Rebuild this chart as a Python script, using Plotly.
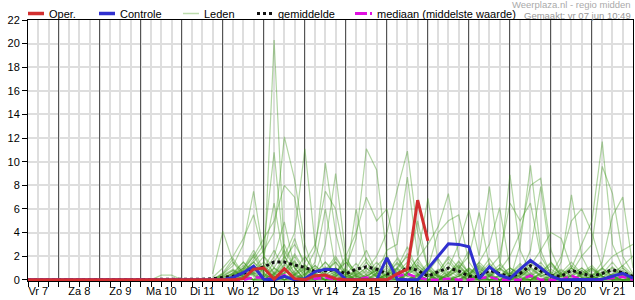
import pandas as pd
import plotly.graph_objects as go

# ---------------- data ----------------
tijd = list(pd.date_range("2024-06-07 06:00", periods=60, freq="6h"))
dag_labels = ["Vr 7", "Za 8", "Zo 9", "Ma 10", "Di 11", "Wo 12", "Do 13", "Vr 14",
              "Za 15", "Zo 16", "Ma 17", "Di 18", "Wo 19", "Do 20", "Vr 21"]
dag_midden = list(pd.date_range("2024-06-07 12:00", periods=15, freq="D"))
dag_grens = list(pd.date_range("2024-06-08 00:00", periods=14, freq="D"))

oper = [0, 0, 0, 0, 0, 0, 0, 0, 0, 0, 0, 0, 0, 0, 0, 0, 0, 0, 0, 0,
        0, 0.1, 0.9, 1.0, 0.05, 0.95, 0.1, 0, 0.35, 0.4, 0.1, 0, 0, 0, 0, 0,
        0.5, 0.9, 6.75, 3.3]

controle = [0, 0, 0, 0, 0, 0, 0, 0, 0, 0, 0.05, 0.05, 0, 0, 0, 0, 0, 0, 0, 0,
            0.2, 0.6, 1.15, 0.05, 0, 0.3, 0, 0.1, 0.7, 0.9, 0.85, 0.05, 0, 0, 0, 1.85,
            0.05, 0, 0, 0.95, 2.0, 3.05, 3.0, 2.8, 0.1, 1.1, 0.4, 0.1, 0.9, 1.65,
            1.0, 0.3, 0, 0, 0, 0, 0.05, 0.3, 0.55, 0.15]

gemiddelde = [0, 0, 0, 0, 0, 0, 0, 0, 0, 0, 0.02, 0.02, 0.02, 0.02, 0.02, 0.02, 0.05, 0.05, 0.1, 0.2,
              0.3, 0.55, 0.85, 1.1, 1.5, 1.5, 1.25, 1.05, 0.7, 0.8, 0.85, 0.5, 0.9, 1.1, 0.9, 0.5,
              0.45, 1.05, 0.8, 0.3, 0.7, 1.0, 0.75, 0.3, 0.28, 0.8, 0.5, 0.25, 0.55, 1.2,
              0.75, 0.35, 0.3, 0.8, 0.55, 0.3, 0.55, 0.85, 0.6, 0.3]

mediaan = [0, 0, 0, 0, 0, 0, 0, 0, 0, 0, 0, 0, 0, 0, 0, 0, 0, 0, 0, 0,
           0, 0, 0.2, 0.2, 0, 0.4, 0, 0, 0.1, 0.2, 0, 0, 0, 0.2, 0, 0,
           0.3, 0.5, 0.2, 0, 0, 0.1, 0, 0, 0.15, 0.25, 0, 0, 0, 0.35,
           0, 0, 0, 0.35, 0, 0, 0, 0.15, 0.25, 0]

# ensemble members (from Di 11 18:00 onward; earlier values are 0)
leden = [
    [0, 0.2, 0.5, 1.0, 2.5, 0.8, 20.3, 2.0, 0.5, 0, 0.2, 0.8, 1.5, 0.3, 0, 0, 0.5, 1.2, 0.4, 0, 0.3,
     0.9, 0.2, 0, 0, 0.4, 1.5, 0.6, 0, 0.2, 0.8, 0.3, 0, 0, 0.5, 1.0, 0.2, 0, 0, 0.3, 0.6, 0.1],
    [0, 0, 0.3, 0.8, 1.5, 2.5, 4.0, 12.1, 8.5, 3.0, 0.3, 0, 0.5, 1.5, 0.8, 0, 0, 0.3, 1.0, 2.0, 0.5,
     0, 0, 0.6, 1.2, 0.3, 0, 0, 0.4, 1.0, 0.5, 0, 0, 0.2, 0.6, 0.2, 0, 0, 0.4, 1.1, 0.3, 0],
    [0, 0, 0, 0.5, 1.8, 3.0, 10.8, 2.0, 4.0, 11.1, 3.0, 0.5, 0, 0, 0.4, 1.0, 0.2, 0, 0, 0.5, 1.5,
     0.6, 0, 0, 0.3, 0.8, 0.2, 0, 0, 0.5, 1.4, 0.4, 0, 0, 0, 0.3, 0.8, 0.2, 0, 0, 0.5, 0.2],
    [0, 0.5, 1.2, 3.0, 7.5, 2.0, 0.5, 1.0, 0, 0.8, 2.5, 9.9, 4.0, 0.5, 0, 0, 1.2, 2.0, 0.5, 0, 0,
     0, 0.7, 1.8, 0.6, 0, 0, 0.4, 1.0, 0.3, 0, 0, 0.5, 1.2, 0.4, 0, 0, 0.2, 0.7, 0.3, 0, 0],
    [0.5, 4.1, 1.5, 0.3, 0, 0, 1.0, 2.5, 1.0, 0, 0.5, 3.0, 9.0, 2.0, 0.3, 0, 0, 0.5, 1.5, 0.6, 0,
     0, 0, 0.3, 0.9, 2.5, 0.8, 0, 0, 0.3, 0.6, 0.2, 0, 0, 0.4, 1.2, 0.5, 0, 0, 0.2, 0.6, 0.3],
    [0, 0, 0.2, 0.6, 1.5, 0.8, 0.3, 0, 0.5, 1.2, 0.4, 0, 0.3, 1.0, 3.5, 11.1, 9.3, 2.0, 0.5, 0, 0.3,
     0.8, 0.2, 0, 0, 0.3, 0.9, 0.4, 0, 0, 0.5, 1.5, 0.6, 0, 0, 0.4, 1.0, 0.3, 0, 0, 0.2, 0.1],
    [0, 0, 0, 0.3, 0.8, 1.5, 0.6, 0, 0.2, 0.5, 1.2, 0.4, 0, 0, 0.3, 0.8, 2.0, 4.0, 7.6, 10.9, 4.0,
     1.0, 0.3, 0, 0, 0.5, 1.0, 0.3, 0, 0, 0.4, 1.1, 0.3, 0.6, 0, 0, 0.2, 0.5, 0.2, 0, 0, 0],
    [0, 0, 0.4, 1.0, 2.2, 0.6, 0, 0.5, 1.5, 0.3, 0, 0.2, 0.7, 1.5, 0.4, 0, 0.6, 2.5, 3.0, 8.7, 2.0,
     6.9, 1.5, 0.2, 0, 0.4, 1.3, 0.5, 0, 0.2, 0, 0, 0.6, 1.4, 0.4, 0, 0, 0.3, 0.9, 0.3, 0, 0],
    [0, 0, 0, 0.2, 0.9, 2.0, 1.0, 0.3, 0, 0, 0.6, 1.5, 0.5, 0, 0, 0.4, 1.1, 0.3, 0, 0.6, 1.8,
     3.0, 4.5, 7.3, 2.0, 0.5, 0, 0.3, 1.0, 8.9, 2.5, 0.6, 0, 0, 0.3, 0.8, 0.2, 0, 0.5, 1.5, 0.4, 0],
    [0, 0.3, 0.8, 0.2, 0, 0.5, 2.0, 4.9, 1.0, 0, 0.3, 0, 0.5, 1.8, 0.5, 0, 0, 0.2, 0.8, 2.2, 1.0,
     0.3, 0, 1.0, 3.0, 5.9, 2.0, 7.9, 1.5, 0.3, 0, 0.4, 1.2, 0.3, 0, 0, 0.5, 1.0, 0.3, 0, 0, 0.2],
    [0, 0, 0.5, 1.5, 0.6, 0, 0.3, 1.2, 3.5, 1.0, 0.2, 0, 0, 0.5, 1.4, 0.4, 0, 0, 0.3, 1.0, 0.4,
     0, 0.6, 2.0, 1.0, 2.0, 5.7, 1.2, 0.3, 0, 3.0, 9.7, 2.5, 0.4, 0, 0, 0.6, 1.2, 0.3, 0, 0, 0.3],
    [0, 0, 0, 0.8, 2.0, 0.5, 0, 0.2, 0.7, 2.0, 0.6, 0, 0.4, 0, 0.9, 2.5, 0.6, 0, 0.4, 1.2, 0.5,
     0, 0, 0.5, 1.5, 0.6, 0, 0.2, 0.8, 2.0, 4.0, 8.0, 8.6, 2.5, 0.5, 0, 0, 0.4, 1.0, 0.3, 0, 0],
    [0, 0.2, 0.6, 0.3, 0, 1.0, 2.5, 0.8, 0, 0.3, 1.5, 6.0, 1.0, 0, 0.2, 0.7, 0.3, 0, 1.0, 2.8, 0.8,
     0.3, 0, 0.3, 1.0, 0.4, 1.5, 3.0, 6.1, 1.0, 0.5, 2.5, 7.9, 1.5, 0.3, 0, 0, 0.2, 0.5, 0.2, 0, 0],
    [0, 0, 0.3, 1.0, 0.4, 0, 0.5, 1.6, 0.4, 0, 0, 0.5, 1.8, 0.6, 0, 0, 0.4, 1.0, 0.3, 0, 0.2,
     0.7, 1.8, 0.5, 0, 0, 0.4, 1.0, 0.3, 0, 0.2, 1.0, 0.4, 0, 1.5, 7.2, 2.0, 0.3, 0, 0.4, 1.0, 0.2],
    [0, 0, 0, 0.2, 0.6, 1.2, 0.5, 0, 0, 0.4, 1.0, 0.3, 0, 0, 0.5, 1.5, 0.4, 0, 0, 0.6, 1.3,
     0.4, 0, 0, 0.3, 1.0, 0.3, 0, 0, 0.5, 1.2, 0.4, 0, 0, 0.3, 1.0, 3.0, 5.0, 11.7, 3.0, 1.0, 0.3],
    [0, 0.4, 0.9, 0.3, 0, 0.2, 1.5, 3.0, 1.0, 0, 0, 0.8, 2.0, 0.5, 0, 0.3, 0.9, 0.3, 0, 0, 0.4,
     1.2, 0.4, 0, 0.5, 0, 0.6, 1.8, 0.5, 0, 0, 0.5, 1.5, 0.4, 0, 0.6, 2.0, 3.0, 9.6, 7.3, 2.0, 0.5],
    [0, 0, 0.2, 0.5, 1.2, 0.4, 0, 0.6, 2.0, 0.6, 0, 0, 0.3, 0.9, 0.3, 0, 0, 0.5, 1.4, 0.5, 0,
     0, 0.3, 1.1, 0.4, 0, 0, 0.3, 0.9, 0.3, 0, 0, 0.6, 1.5, 0.5, 0, 0, 0.3, 1.5, 5.4, 7.0, 1.0],
    [0, 0, 0.6, 1.5, 0.5, 0, 0.2, 0.6, 2.2, 0.8, 0, 0.4, 1.0, 0.2, 6.0, 1.5, 0.3, 0, 0.4, 1.0, 5.0,
     1.0, 0.3, 0, 0, 0.6, 1.2, 0.4, 0, 0.3, 0.8, 0.2, 0, 0, 0.3, 1.0, 0.3, 0, 0, 0.4, 0.8, 0.2],
    [0.2, 1.0, 2.0, 3.5, 5.5, 2.0, 6.5, 1.5, 0.3, 0, 0.5, 1.5, 0.6, 0, 0, 0.3, 0.8, 0.2, 0, 0.4, 1.2,
     0.5, 0, 0, 0.3, 1.0, 0.4, 0, 0, 0.4, 1.0, 0.3, 0, 0, 0.6, 1.5, 0.5, 0, 0.2, 0.8, 0.3, 0],
    [0, 0, 0.3, 0.9, 2.0, 3.5, 5.0, 8.0, 7.0, 2.0, 0.5, 0, 0.3, 0.8, 0.2, 0, 0, 0.5, 1.0, 0.3, 0,
     0, 0.2, 0.7, 0.3, 0, 0.5, 1.4, 0.5, 0, 0, 0.3, 0.8, 0.2, 0, 0, 0.4, 0.8, 0.3, 0, 0, 0],
    [0, 0, 0, 0.4, 1.0, 0.3, 0, 0.8, 1.6, 0.5, 0, 0, 0.6, 2.0, 4.0, 7.0, 5.0, 6.0, 2.0, 0.5, 0,
     0, 0.5, 1.5, 0.5, 0, 0, 0.3, 1.0, 0.4, 0, 0, 0.5, 0.9, 0.3, 0, 0, 0.2, 0.6, 0.2, 0, 0],
    [0, 0.2, 0.5, 1.2, 0.4, 0, 0.4, 1.8, 3.0, 1.5, 3.0, 7.5, 6.0, 1.5, 0.3, 0, 0, 0.4, 0.9, 0.3, 0,
     0, 0, 0.5, 1.3, 0.4, 0, 0, 0.3, 0.8, 0.2, 0, 0, 0.3, 0.8, 0.3, 0, 0, 0, 0.3, 0.7, 0.2],
    [0, 0, 0, 0.3, 0.7, 1.2, 0.3, 0, 0.4, 0.9, 0.2, 0, 0, 0.3, 0.8, 0.2, 0, 0.6, 1.8, 0.6, 0,
     1.0, 4.0, 5.0, 5.5, 1.5, 0.3, 0, 0.4, 0.6, 0, 0.3, 1.0, 0.3, 0, 0, 0.5, 1.0, 0.3, 0, 0, 0.2],
    [0, 0.3, 0.8, 0.3, 0, 0, 0.5, 1.3, 0.4, 0, 0, 0.4, 1.0, 0.3, 0, 0, 0.6, 1.5, 0.4, 0, 0,
     0.3, 0.9, 0.3, 0, 0, 0.3, 1.0, 2.0, 6.5, 5.0, 6.5, 2.0, 0.5, 0, 0, 0.4, 0.9, 0.3, 0, 0, 0],
    [0, 0, 0.2, 0.6, 1.5, 0.5, 0, 0, 0.5, 1.3, 0.4, 0, 0, 0.2, 0.7, 1.8, 0.6, 0, 0, 0.4, 1.0,
     0.3, 0, 0.5, 1.6, 0.6, 0, 0, 0.3, 1.0, 0.3, 0, 0, 0.4, 2.0, 5.0, 6.0, 4.0, 1.0, 0.3, 0, 0],
    [0, 0.5, 1.5, 0.6, 0, 0, 0.2, 0.5, 1.2, 0.4, 0, 0.6, 1.5, 0.5, 0, 0, 0.3, 0.8, 0.2, 0, 0.5,
     1.4, 0.4, 0, 0, 0.2, 0.7, 0.3, 0, 0, 0.4, 1.2, 2.5, 4.0, 3.5, 1.0, 0.2, 0, 0.4, 1.0, 0.3, 0],
    [0, 0, 0, 0.2, 0.5, 0.9, 0.3, 0, 0, 0.5, 1.2, 0.4, 0, 0, 0.4, 1.0, 0.3, 0, 0.6, 1.5, 0.5,
     0, 0, 0.3, 0.8, 0.3, 0, 0.5, 1.3, 0.4, 0, 0, 0.3, 0.7, 0.2, 0, 0, 0.3, 1.0, 2.0, 2.5, 3.0],
    [0, 0, 0, 0, 0, 0, 0, 0, 0, 0, 0, 0, 0, 0.4, 0.4, 0, 0, 0, 0, 0, 0, 0.2, 0.6,
     0.3, 0, 0, 0.4, 1.0, 0.3, 0, 0, 0.2, 0.6, 0.2, 0, 0, 0.3, 0.9, 0.3, 0, 0, 0.4, 1.1,
     0.4, 0, 0, 0.2, 0.6, 0.2, 0, 0, 0.3, 0.9, 0.3, 0, 0, 0, 0.5, 1.2, 2.0],
    [0, 0.6, 1.8, 0.5, 0, 0.3, 1.0, 0.4, 0, 0, 0.4, 1.1, 0.3, 0, 0, 0.3, 0.8, 0.2, 0, 0.6, 1.8,
     0.5, 0, 0, 0.3, 0.9, 0.3, 0, 0, 0.2, 0.6, 0.2, 0, 0, 0, 0.4, 1.0, 0.3, 0, 0, 0.4, 0],
    [0, 0, 0.3, 0.8, 0.3, 0, 0.6, 2.0, 0.6, 0, 0, 0.3, 0.7, 0.2, 0, 0.5, 1.5, 0.5, 0, 0, 0.4,
     0.8, 0.3, 0, 0, 0.4, 1.1, 0.3, 0, 0, 0.3, 0.9, 0.3, 0, 0, 0.3, 0.8, 0.2, 0, 0.5, 1.2, 0.4],
]

for k, lid in enumerate(leden):
    if len(lid) not in (42, 60):
        raise ValueError(f"lid {k} heeft lengte {len(lid)}")

# ---------------- figure ----------------
FONT = "Liberation Sans, Arial, sans-serif"
RED = "#d22f2f"
BLUE = "#3030cf"
MAGENTA = "#e010e0"
x_eind = pd.Timestamp("2024-06-22 00:00")
x_range = [tijd[0].strftime("%Y-%m-%d %H:%M"), x_eind.strftime("%Y-%m-%d %H:%M")]

fig = go.Figure()

for lid in leden:
    fig.add_trace(go.Scatter(x=tijd[-len(lid):], y=lid, mode="lines",
                             line=dict(color="rgba(60,150,25,0.40)", width=1.2),
                             hoverinfo="skip"))

fig.add_trace(go.Scatter(x=tijd, y=gemiddelde, mode="lines",
                         line=dict(color="#111", width=3, dash="dot")))
fig.add_trace(go.Scatter(x=tijd, y=mediaan, mode="lines",
                         line=dict(color=MAGENTA, width=2.5, dash="8px,4px")))
fig.add_trace(go.Scatter(x=tijd, y=controle, mode="lines",
                         line=dict(color=BLUE, width=3)))
fig.add_trace(go.Scatter(x=tijd[:len(oper)], y=oper, mode="lines",
                         line=dict(color=RED, width=3)))

# manual legend
L, R, T, B = 28, 633, 20, 281
def px(xp):
    return (xp - L) / (R - L)
def py(yp):
    return (B - yp) / (B - T)

shapes = []
ly = 13.5
leg = [
    ("Oper.", 28, 44, dict(color=RED, width=3.5), 47),
    ("Controle", 99, 115, dict(color=BLUE, width=3.5), 118),
    ("Leden", 183, 199, dict(color="#bcdcac", width=1.5), 202),
    ("gemiddelde", 257, 272, dict(color="#111", width=3, dash="dot"), 276),
    ("mediaan (middelste waarde)", 355, 372, dict(color=MAGENTA, width=3, dash="12px,3px"), 375),
]
annotations = []
for txt, x0, x1, ln, xt in leg:
    shapes.append(dict(type="line", xref="paper", yref="paper", x0=px(x0), x1=px(x1),
                       y0=py(ly), y1=py(ly), line=ln))
    annotations.append(dict(text=txt, xref="paper", yref="paper", x=px(xt), y=py(ly),
                            xanchor="left", yanchor="middle", showarrow=False,
                            font=dict(family=FONT, size=11, color="#000")))
annotations.append(dict(text="Weerplaza.nl - regio midden", xref="paper", yref="paper",
                        x=px(633), y=py(5), xanchor="right", yanchor="middle", showarrow=False,
                        font=dict(family=FONT, size=9.5, color="#aaaaaa")))
annotations.append(dict(text="Gemaakt: vr 07 jun 10:49", xref="paper", yref="paper",
                        x=px(633), y=py(15), xanchor="right", yanchor="middle", showarrow=False,
                        font=dict(family=FONT, size=9.5, color="#999999")))

fig.update_layout(
    width=635, height=300,
    margin=dict(l=L, r=635 - R, t=T, b=300 - B, autoexpand=False),
    paper_bgcolor="white", plot_bgcolor="white",
    showlegend=False,
    font=dict(family=FONT, size=11, color="#000"),
    shapes=shapes, annotations=annotations,
    xaxis=dict(
        type="date", range=x_range,
        tickvals=dag_midden, ticktext=dag_labels, automargin=False,
        showgrid=False, zeroline=False, ticklabelstandoff=-5,
        ticks="outside", ticklen=5, tickcolor="#000", tickwidth=1,
        showline=True, linecolor="#000", linewidth=1, mirror=True,
        minor=dict(dtick=6 * 3600 * 1000, tick0=tijd[0], showgrid=True,
                   gridcolor="#dedede", gridwidth=1.5,
                   ticks="outside", ticklen=5, tickcolor="#000", tickwidth=1),
        tickfont=dict(family=FONT, size=11, color="#000"),
    ),
    # second x axis only used for the darker day-boundary grid lines
    xaxis2=dict(
        type="date", range=x_range, overlaying="x", matches="x",
        tickvals=dag_grens, showticklabels=False, ticks="", automargin=False,
        showgrid=True, gridcolor="#555555", gridwidth=1.3, zeroline=False,
        showline=False,
    ),
    yaxis=dict(
        range=[-0.1, 22], tick0=0, dtick=2, automargin=False,
        showgrid=True, gridcolor="#dedede", gridwidth=1.5, zeroline=False,
        ticks="outside", ticklen=5, tickcolor="#000", tickwidth=1,
        showline=True, linecolor="#000", linewidth=1, mirror=True,
        tickfont=dict(family=FONT, size=11, color="#000"),
    ),
)
# an invisible trace so xaxis2 is drawn
fig.add_trace(go.Scatter(x=[tijd[0]], y=[None], xaxis="x2", yaxis="y", mode="lines",
                         hoverinfo="skip", showlegend=False))

fig.write_html("out.html")
